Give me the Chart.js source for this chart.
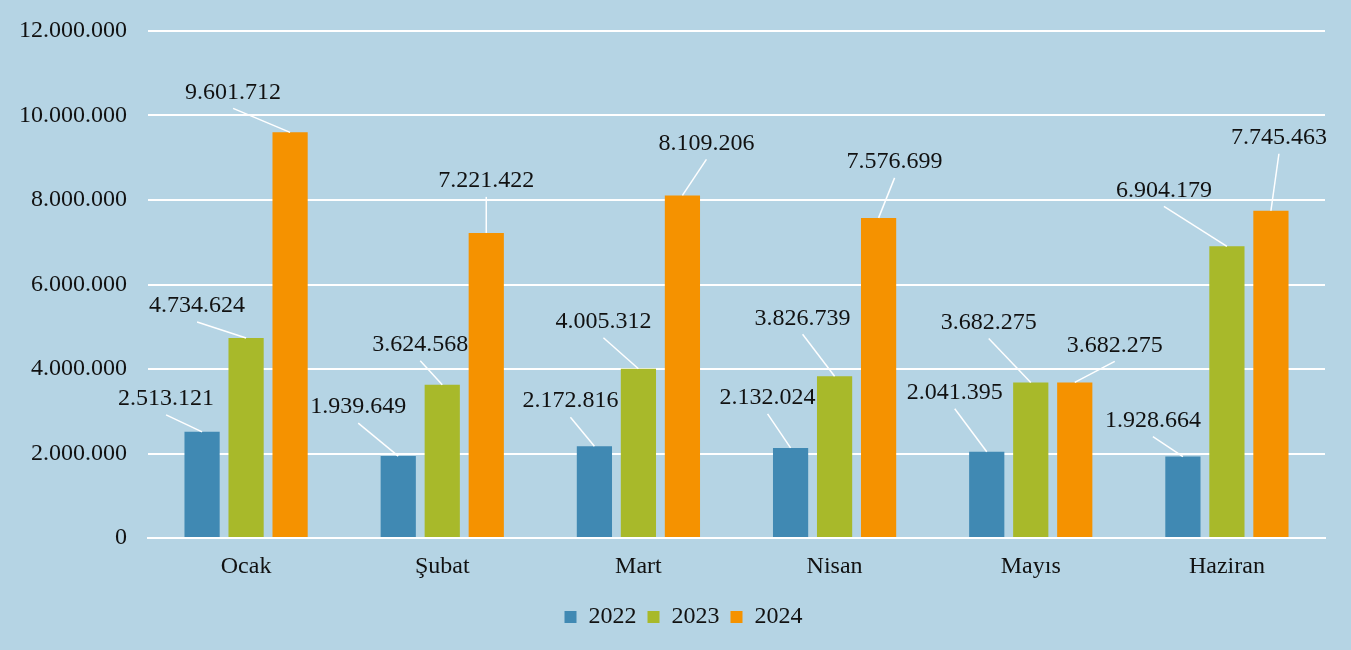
<!DOCTYPE html>
<html>
<head>
<meta charset="utf-8">
<script src="https://cdn.jsdelivr.net/npm/chart.js@4.4.1/dist/chart.umd.min.js"></script>
<style>
  html, body { margin: 0; padding: 0; background: #b5d4e4; }
  #wrap { width: 1351px; height: 650px; }
</style>
</head>
<body>
<div id="wrap"><canvas id="chart"></canvas></div>
<script>
// data
var months = ['Ocak', 'Şubat', 'Mart', 'Nisan', 'Mayıs', 'Haziran'];
var years = ['2022', '2023', '2024'];
var values2022 = [2513121, 1939649, 2172816, 2132024, 2041395, 1928664];
var values2023 = [4734624, 3624568, 4005312, 3826739, 3682275, 6904179];
var values2024 = [9601712, 7221422, 8109206, 7576699, 3682275, 7745463];
var yTicksMax = 12000000;
var yTicksStep = 2000000;

var colors = ['#4089b3', '#a8b92a', '#f59200'];
var FONT = "'Liberation Serif', 'Times New Roman', serif";

// where each value label sits, relative to the top centre of its bar (px)
var labelOffsets = [
  [[-36, -33], [-40, -49], [-24, -45], [-23, -50], [-32, -59], [-30, -36]],
  [[-49, -32], [-22, -40], [-35, -47], [-32, -58], [-42, -60], [-63, -56]],
  [[-57, -40], [0, -52], [24, -52], [16, -56], [40, -37], [8, -73]]
];

function fmt(n) {
  return String(Math.round(n)).replace(/\B(?=(\d{3})+(?!\d))/g, '.');
}

var bgPlugin = {
  id: 'bg',
  beforeDraw: function(chart) {
    var ctx = chart.ctx;
    ctx.save();
    ctx.fillStyle = '#b5d4e4';
    ctx.fillRect(0, 0, chart.width, chart.height);
    ctx.restore();
  },
  afterLayout: function(chart) {
    // legend sits a little right of the canvas centre in the original
    if (chart.legend) {
      chart.legend.left += 21;
      chart.legend.right += 21;
    }
  }
};

var labelPlugin = {
  id: 'leaderLabels',
  afterDatasetsDraw: function(chart) {
    var ctx = chart.ctx;
    ctx.save();
    ctx.font = '24px ' + FONT;
    ctx.textAlign = 'center';
    ctx.textBaseline = 'middle';
    chart.data.datasets.forEach(function(ds, i) {
      var meta = chart.getDatasetMeta(i);
      meta.data.forEach(function(bar, j) {
        var off = labelOffsets[i][j];
        var cx = bar.x + off[0];
        var cy = bar.y + off[1];
        ctx.strokeStyle = '#ffffff';
        ctx.lineWidth = 1.5;
        ctx.beginPath();
        ctx.moveTo(cx, cy + 16);
        ctx.lineTo(bar.x, bar.y);
        ctx.stroke();
        ctx.fillStyle = '#111111';
        ctx.fillText(fmt(ds.data[j]), cx, cy);
      });
    });
    ctx.restore();
  }
};

var series = [values2022, values2023, values2024];

new Chart(document.getElementById('chart').getContext('2d'), {
  type: 'bar',
  data: {
    labels: months,
    datasets: years.map(function(y, i) {
      return {
        label: y,
        data: series[i],
        backgroundColor: colors[i],
        borderWidth: 0,
        categoryPercentage: 0.673,
        barPercentage: 0.8
      };
    })
  },
  options: {
    responsive: true,
    maintainAspectRatio: false,
    animation: false,
    layout: {
      padding: { left: 0, right: 26, top: 31, bottom: 11 }
    },
    plugins: {
      tooltip: { enabled: false },
      legend: {
        position: 'bottom',
        labels: {
          color: '#111111',
          font: { family: FONT, size: 24 },
          boxWidth: 12,
          boxHeight: 12,
          padding: 11
        }
      }
    },
    scales: {
      x: {
        grid: { display: false, drawTicks: false },
        border: { display: true, color: '#ffffff', width: 2 },
        ticks: {
          color: '#111111',
          font: { family: FONT, size: 24 },
          padding: 14
        },
        afterFit: function(scale) { scale.height = 56; }
      },
      y: {
        min: 0,
        max: yTicksMax,
        grid: { color: '#ffffff', lineWidth: 2, drawTicks: false },
        border: { display: false },
        ticks: {
          stepSize: yTicksStep,
          color: '#111111',
          font: { family: FONT, size: 24 },
          padding: 21,
          callback: function(v) { return fmt(v); }
        },
        afterFit: function(scale) {
          scale.width = 148;
          scale.paddingTop = 0;
          scale.paddingBottom = 0;
        }
      }
    }
  },
  plugins: [bgPlugin, labelPlugin]
});
</script>
</body>
</html>
